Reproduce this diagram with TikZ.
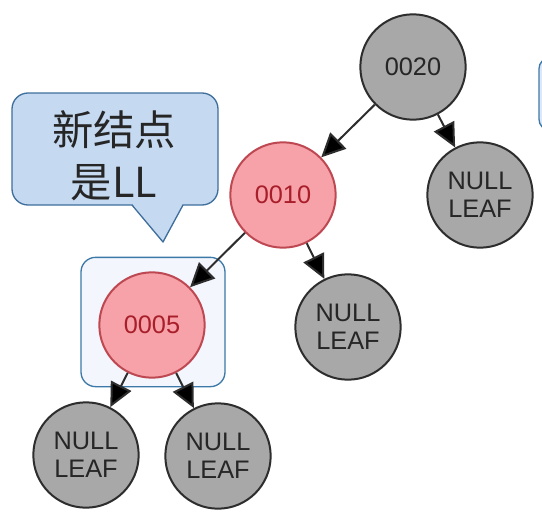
\documentclass[tikz,border=0pt]{standalone}
\usepackage{fontspec}
\setmainfont{Liberation Sans}
\newfontfamily\cjkfont{Noto Sans CJK SC}
\usetikzlibrary{arrows.meta}
\definecolor{nodegray}{RGB}{168,168,168}
\definecolor{nodeline}{RGB}{45,45,45}
\definecolor{redfill}{RGB}{246,162,168}
\definecolor{redline}{RGB}{190,72,82}
\definecolor{redtext}{RGB}{168,30,42}
\definecolor{tipfill}{RGB}{197,217,241}
\definecolor{tipline}{RGB}{62,110,156}
\definecolor{boxfill}{RGB}{243,246,252}
\definecolor{boxline}{RGB}{60,120,168}

\begin{document}
\begin{tikzpicture}[x=0.75pt,y=0.75pt,yscale=-1,xscale=1,
  keynode/.style={circle, minimum size=79pt, inner sep=0pt, line width=1.5pt, align=center,
    font=\fontsize{19}{21}\selectfont},
  blacknode/.style={keynode, draw=nodeline, fill=nodegray, text=black!85},
  rednode/.style={keynode, draw=redline, fill=redfill, text=redtext},
  treeedge/.style={draw=nodeline, line width=1.5pt, -{Triangle[length=18pt,width=17pt,fill=black]}}]
\useasboundingbox (0,0) rectangle (542,517);
\clip (0,0) rectangle (542,517);

%Shape: Rounded Rect, cut by the right edge
\draw [draw=boxline, fill=tipfill!60, line width=1pt, rounded corners=8pt] (539,58) rectangle (590,130) ;

%Shape: Rounded Rect round the new node
\node [draw=boxline, fill=boxfill, line width=1pt, rounded corners=11pt, minimum width=108pt, minimum height=97pt] (newbox) at (153,322) {};

%Shape: Callout
\draw [draw=tipline, fill=tipfill, line width=1pt, rounded corners=12pt] (12,93) rectangle (218,205) ;
\fill [tipfill] (132,203.5) -- (163,242) -- (183,203.5) -- cycle ;
\draw [draw=tipline, line width=1pt, line join=round] (132,205) -- (163,242) -- (183,205) ;

% Text Node
\node [align=center, font=\cjkfont\fontsize{31}{39}\selectfont, text=black!85] (tiptext) at (114,156) {新结点\\是LL};

% Tree nodes
\node [blacknode] (k20) at (413,67) {0020};
\node [rednode] (k10) at (283,195) {0010};
\node [blacknode] (leafA) at (480,195) {NULL\\LEAF};
\node [rednode] (k05) at (152,325) {0005};
\node [blacknode] (leafB) at (348,327) {NULL\\LEAF};
\node [blacknode] (leafC) at (86,455) {NULL\\LEAF};
\node [blacknode] (leafD) at (218,456) {NULL\\LEAF};

% Edges
\draw [treeedge] (k20) -- (k10) ;
\draw [treeedge] (k20) -- (leafA) ;
\draw [treeedge] (k10) -- (k05) ;
\draw [treeedge] (k10) -- (leafB) ;
\draw [treeedge] (k05) -- (leafC) ;
\draw [treeedge] (k05) -- (leafD) ;

\end{tikzpicture}
\end{document}
